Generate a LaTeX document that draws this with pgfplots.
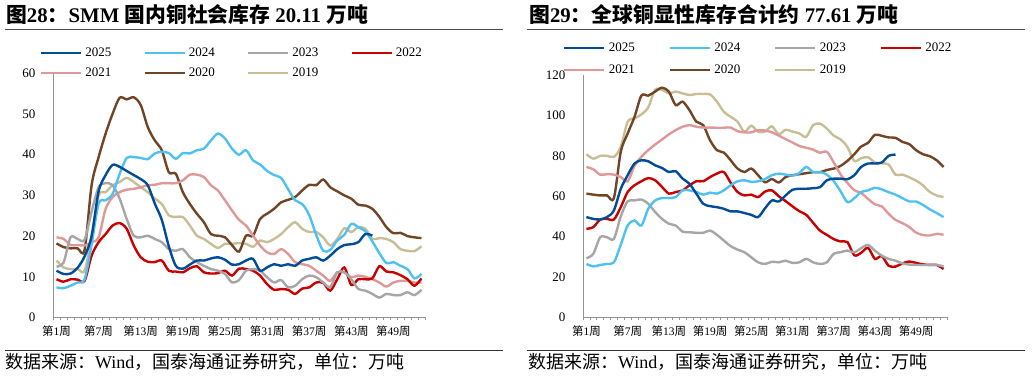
\documentclass[border=0pt]{standalone}
\usepackage{pgfplots}
\pgfplotsset{compat=1.18}
\usepackage{pgfplotstable}
\usepackage{fontspec}
\setmainfont{Liberation Serif}
\newfontfamily\cjk{Noto Sans CJK SC}
\newcommand{\zh}[1]{{\cjk #1}}
\definecolor{c25}{RGB}{0,76,151}
\definecolor{c24}{RGB}{79,193,240}
\definecolor{c23}{RGB}{166,166,166}
\definecolor{c22}{RGB}{200,0,0}
\definecolor{c21}{RGB}{222,152,152}
\definecolor{c20}{RGB}{112,68,36}
\definecolor{c19}{RGB}{200,190,150}

\pgfplotstableread{
w y25 y24 y23 y22 y21 y20 y19
1 11.5 7.4 12.5 9.4 19.7 18.2 14
2 10.7 7.2 13.5 8.8 19.3 17.3 12.3
3 10.8 7.8 19.7 9.4 17.8 17 11.9
4 12.2 8.6 19.3 9.3 17.8 17 11.9
5 15 9.4 19.1 9 17.7 16.6 11.5
6 20 18 26 15.2 18.5 32.5 20
7 31 28 32 18.5 19.7 39.4 30
8 35 28.8 33 20.5 26.7 45.2 30.8
9 37.5 30.4 32.5 22.6 29.6 50.1 32.5
10 37 35.3 29.2 23.2 30.8 54 33.3
11 36 39.2 24.2 21.8 31.4 53.6 34.3
12 35 39.4 20.1 17.7 31.6 54.1 33.3
13 34 39.2 19.7 14.8 32 52.2 32
14 32.5 38.9 20.1 13.7 32.5 46.8 30.8
15 28 40.3 19.3 13.6 32.6 43.5 29.2
16 24 40.7 18.5 14 33 41.1 27.9
17 17.5 40.4 16.8 11.5 33 35.7 25.1
18 12.7 39 16.4 11.3 33 35.3 24.7
19 12 40.4 16.8 11.1 33.7 30.8 24.7
20 13 40.3 14.8 12.1 35.1 27.9 22.6
21 14 41.1 13.6 12.6 35.1 25.5 20.1
22 14 41.5 12.7 11.1 34.5 23.4 19.3
23 14.5 43.5 11.9 10.8 32.5 20.5 18.1
24 14.8 45.2 11.5 10.9 31.2 20.1 17.1
25 14.2 44 10.7 11.5 28.8 19.7 18.1
26 13 41.5 8.6 10.3 26.3 17.8 18.1
27 13.1 40 9.2 12 24 16.2 18.3
28 14 41.1 11.5 11.9 22.6 20.1 18.1
29 14.4 38.6 11.9 11.5 20.1 20.1 17.4
30 11.5 37.6 11.5 10.3 17.7 24.2 18.9
31 12.3 36 9.9 8.2 16 25.5 18.5
32 13.1 35 8.6 6.8 15.6 26.7 19.3
33 12.7 34.3 9.2 7 16.8 28.3 20.5
34 13.1 31.5 7.4 6.8 15.6 28.9 22.2
35 12.7 28.8 7.8 5.8 13.6 29.6 23.4
36 14 27.9 9.4 7.1 13.1 31.2 21.8
37 14.4 25.2 10.3 7.4 12.7 32.6 21
38 14.8 20.3 9.9 8.6 11.5 32.5 21
39 14 16.4 8.6 8.5 10.3 33.9 19.7
40 15.2 16.6 7.5 6.6 9 32 17.7
41 16.8 18.9 11.1 9.4 11.1 31 19.3
42 17.8 20.3 11.1 12.3 11.1 30 21.9
43 18 23 9.4 8 9.9 29.2 21
44 18.5 22.2 7 9.4 10.3 27.7 22.2
45 20.5 21.2 6.6 9.4 10 27.5 21.8
46 20.1 18.7 5.8 9.6 9.4 26.7 19.3
47 nan 15.8 4.9 12.6 8.6 24.7 19.5
48 nan 13.4 5.8 11.3 7.6 22.2 19.3
49 nan 13.6 5.5 11.1 8.6 20.7 18.5
50 nan 12.7 5.5 10.4 9 20.8 16.8
51 nan 11.9 6.2 9.4 9 20 16.4
52 nan 9.6 5.5 7.8 8.6 19.7 16.3
53 nan 10.7 6.8 9.6 8.6 19.5 17.5
}\tabL

\pgfplotstableread{
w y25 y24 y23 y22 y21 y20 y19
1 49.7 26.5 29.3 43.9 74.5 61.3 80.8
2 48.8 25.3 31.5 44.7 73.3 60.8 78.6
3 48.5 26 39.7 48.5 70.7 60.4 80
4 49.7 26.5 39.7 48.8 70.9 60.4 80
5 53 27.3 38.9 48.5 70.7 59.1 79.5
6 63.7 36 50 54.6 69.5 82 84.4
7 70.4 45.5 57.5 62.1 67.4 91 96.9
8 76.2 48 57.9 65.4 75 99.3 98.5
9 77.8 45.5 58.4 67.4 79.5 109.8 100.5
10 77.3 53.8 56.3 69 82.8 109.8 104
11 75.3 57.9 52.2 67.9 85.6 111.8 112.6
12 74 59.1 48.8 64.6 88.1 113.7 112.6
13 72 59.1 46.4 61.3 90.6 111.8 110.9
14 72.4 59.6 45.5 62.1 92.7 105.1 111.8
15 68.7 62.9 42.5 62.9 94.4 106.8 110.9
16 66.2 62.9 42.2 65.4 95.2 102.6 110.1
17 61.3 62.1 41.9 67.4 94.4 96.9 110.6
18 56.3 60.8 41.9 67.4 94 95.2 110.6
19 55.1 61.8 43 69.5 94 87.7 110.4
20 54.6 61.3 40.9 71.2 93.9 82.8 106.8
21 53.8 62.9 38.1 72 93.9 81.6 101.8
22 52.5 65.4 35.3 66.7 94 77.8 99.3
23 52.5 67.4 33.6 62.1 92.2 73.7 96.9
24 51.7 67.9 32.3 60.4 91.6 72 91.9
25 50.8 67.1 29.8 60.8 91.6 73.7 94.9
26 49.7 67.4 27.3 59.6 92.7 70.4 91.9
27 54 68.5 26.5 62.3 92.5 66.9 92
28 57.9 70.4 27.6 62.9 91.7 68.5 94.6
29 57.4 71.2 27.3 60 90 66.8 90.7
30 60.4 70.7 28.1 57.6 88.3 69.5 92.9
31 63.2 70.2 27 55 86.6 70.4 92
32 63.7 71.5 27.3 52.6 84.9 70.9 91.1
33 63.7 74.5 29 50.8 84 71.4 89.4
34 64 72 27.3 46.9 83.1 71.9 95.2
35 64.5 72 26.5 43 81.5 71.9 95.9
36 67.9 70.7 27.3 40.9 82 73 93.5
37 68.7 67.5 31.5 38.8 76.8 73.7 90
38 68.7 62.5 32.3 37.6 70.8 75 88.1
39 68.4 57.1 33.1 37.3 66.6 77.5 84.4
40 70.4 59 32.3 30.8 63 80.8 77.5
41 74.5 62.1 34.3 32 61.6 84.6 78.8
42 76.2 62.9 35.9 34.5 58.7 86.4 79.3
43 76.2 64.2 33.1 29 56 90.4 76.7
44 76.7 63.4 30.6 30.4 55 89.9 76.3
45 80 62 29 25.6 51.3 89.1 75.7
46 80.6 60.8 28.1 25.2 48.3 88.9 70.7
47 nan 59.1 26.8 26.8 46.7 86.9 70.7
48 nan 57.4 26.2 27.7 44.8 85.8 69.4
49 nan 57.4 26 27 42 82.8 67.7
50 nan 55.7 26 26.3 40.8 80.8 65.4
51 nan 53.5 26 26 40.6 79.8 62.1
52 nan 51.7 26 26 41.4 77.8 60.4
53 nan 49.7 25.3 24 40.9 74.5 59.6
}\tabR

\pgfplotsset{panel/.style={
  scale only axis, xmin=0.5, xmax=53.5, ymin=0,
  axis lines=left, axis line style={-, draw=gray!85, line width=0.8pt},
  xtick={1,7,...,49},
  xticklabels={\zh{第}1\zh{周},\zh{第}7\zh{周},\zh{第}13\zh{周},\zh{第}19\zh{周},\zh{第}25\zh{周},\zh{第}31\zh{周},\zh{第}37\zh{周},\zh{第}43\zh{周},\zh{第}49\zh{周}},
  minor xtick={0.5,1.5,...,53.5},
  major tick length=0pt, minor tick length=3pt, tick align=outside,
  xtick style={draw=gray!85, line width=0.5pt},
  ytick style={draw=none},
  /pgf/number format/assume math mode=true,
  yticklabel style={font=\fontsize{13}{13}\selectfont, xshift=-14pt},
  xticklabel style={font=\fontsize{11.5}{12}\selectfont, yshift=-5pt},
  every axis plot/.append style={line width=2.4pt, smooth, no markers},
  legend columns=4, reverse legend,
  legend image code/.code={\draw[#1, line width=2.2pt] (0pt,0pt) -- (40pt,0pt);},
  legend style={draw=none, fill=none, inner sep=0pt, outer sep=0pt,
    font=\fontsize{13}{13}\selectfont, anchor=north west,
    /tikz/every odd column/.append style={column sep=3.3pt},
    nodes={inner sep=0pt, text height=9pt, text depth=2pt}},
}}

\begin{document}
\begin{tikzpicture}
\path[use as bounding box] (0pt,0pt) rectangle (1032pt,377pt);
% titles
\node[anchor=west, inner sep=0pt] at (6pt,362pt) {\fontsize{20.8}{22}\selectfont\bfseries \zh{图}28\zh{：}SMM \zh{国内铜社会库存} 20.11 \zh{万吨}};
\node[anchor=west, inner sep=0pt] at (529pt,362pt) {\fontsize{20.8}{22}\selectfont\bfseries \zh{图}29\zh{：}\zh{全球铜显性库存合计约} 77.61 \zh{万吨}};
\draw[gray!60!black, line width=1pt] (5pt,347pt) -- (503pt,347pt);
\draw[gray!60!black, line width=1pt] (527pt,347pt) -- (1025pt,347pt);
\draw[black!80, line width=0.8pt] (5pt,27pt) -- (503pt,27pt);
\draw[black!80, line width=0.8pt] (527pt,27pt) -- (1025pt,27pt);
\node[anchor=west, inner sep=0pt] at (5pt,15.3pt) {\fontsize{18}{18}\selectfont \zh{数据来源：}Wind\zh{，国泰海通证券研究，单位：万吨}};
\node[anchor=west, inner sep=0pt] at (528pt,15.3pt) {\fontsize{18}{18}\selectfont \zh{数据来源：}Wind\zh{，国泰海通证券研究，单位：万吨}};

\begin{axis}[panel, at={(53pt,59.5pt)}, anchor=south west, width=372pt, height=244.2pt,
  ymax=60, ytick={0,10,...,60},
  legend style={at={(axis description cs:-0.035,1.106)}, row sep=9pt,
    /tikz/every even column/.append style={column sep=32pt}}]
\addplot[c19] table[x=w,y=y19] {\tabL}; \addlegendentry{2019}
\addplot[c20] table[x=w,y=y20] {\tabL}; \addlegendentry{2020}
\addplot[c21] table[x=w,y=y21] {\tabL}; \addlegendentry{2021}
\addplot[c22] table[x=w,y=y22] {\tabL}; \addlegendentry{2022}
\addplot[c23] table[x=w,y=y23] {\tabL}; \addlegendentry{2023}
\addplot[c24] table[x=w,y=y24] {\tabL}; \addlegendentry{2024}
\addplot[c25] table[x=w,y=y25] {\tabL}; \addlegendentry{2025}
\end{axis}

\begin{axis}[panel, at={(583pt,59.5pt)}, anchor=south west, width=364pt, height=242.5pt,
  ymax=120, ytick={0,20,...,120},
  legend style={at={(axis description cs:-0.054,1.134)}, row sep=11pt,
    /tikz/every even column/.append style={column sep=34pt}}]
\addplot[c19] table[x=w,y=y19] {\tabR}; \addlegendentry{2019}
\addplot[c20] table[x=w,y=y20] {\tabR}; \addlegendentry{2020}
\addplot[c21] table[x=w,y=y21] {\tabR}; \addlegendentry{2021}
\addplot[c22] table[x=w,y=y22] {\tabR}; \addlegendentry{2022}
\addplot[c23] table[x=w,y=y23] {\tabR}; \addlegendentry{2023}
\addplot[c24] table[x=w,y=y24] {\tabR}; \addlegendentry{2024}
\addplot[c25] table[x=w,y=y25] {\tabR}; \addlegendentry{2025}
\end{axis}
\end{tikzpicture}
\end{document}
